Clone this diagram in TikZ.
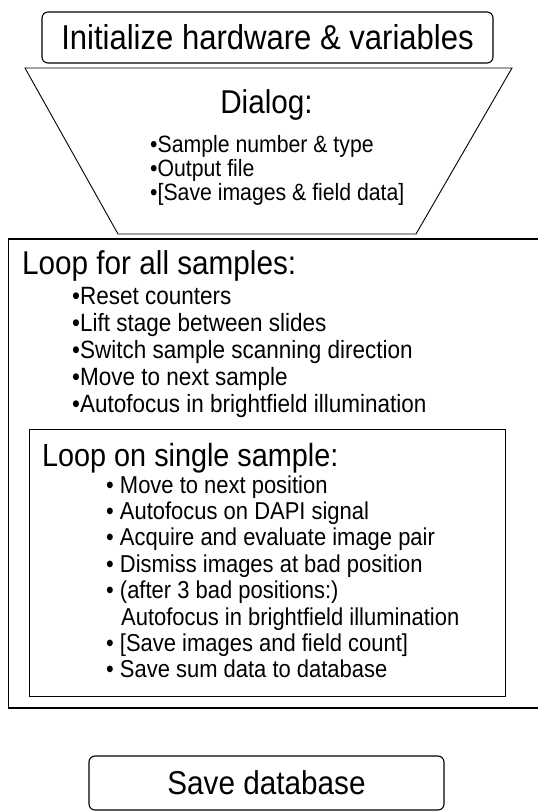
\documentclass[tikz,border=0pt]{standalone}
\usepackage{fontspec}
\setmainfont{Liberation Sans}[FakeStretch=0.9]
\tikzset{
  roundbox/.style={draw, line width=1.1pt, rounded corners=6pt, inner sep=0pt},
  heading/.style={inner sep=0pt, anchor=base west},
  entry/.style={inner sep=0pt, anchor=base west},
}
\newcommand{\fsz}[1]{\fontsize{#1}{#1}\selectfont}

\begin{document}
\begin{tikzpicture}[x=1pt,y=-1pt]
\useasboundingbox (0,0) rectangle (538,812);

%% start
\node [roundbox, minimum width=451pt, minimum height=51pt] (init) at (267.5,37.5)
  {\fsz{34.5}Initialize hardware \& variables};

%% dialog funnel
\draw [line width=0.9pt] (25,68) -- (512,68) -- (416,234) -- (118,234) -- cycle;
\node [inner sep=0pt, anchor=base] (dialog) at (266.5,113) {\fsz{33}Dialog:};
\node [entry] (dlg1) at (150,152) {\fsz{23.6}•Sample number \& type};
\node [entry] (dlg2) at (150,176.5) {\fsz{23.6}•Output file};
\node [entry] (dlg3) at (150,200) {\fsz{23.6}•[Save images \& field data]};

%% outer loop
\draw [line width=1.1pt] (538,239) -- (8.5,239) -- (8.5,708) -- (538,708);
\node [heading] (allhead) at (22,274) {\fsz{33}Loop for all samples:};
\foreach \txt [count=\i] in {Reset counters, Lift stage between slides,
    Switch sample scanning direction, Move to next sample,
    Autofocus in brightfield illumination}
  \node [entry] (all\i) at (72,{277+\i*27}) {\fsz{25}•\txt};

%% inner loop
\draw [line width=1pt] (29,429) rectangle (505,696);
\node [heading] (onehead) at (42,466) {\fsz{32}Loop on single sample:};
\foreach \txt [count=\i] in {Move to next position, Autofocus on DAPI signal,
    Acquire and evaluate image pair, Dismiss images at bad position,
    (after 3 bad positions:)}
  \node [entry] (one\i) at (106,{466.6+\i*26.4}) {\fsz{24.4}• \txt};
\node [entry] (one6) at (121,625) {\fsz{24.4}Autofocus in brightfield illumination};
\node [entry] (one7) at (106,651.4) {\fsz{24.4}• [Save images and field count]};
\node [entry] (one8) at (106,677.8) {\fsz{24.4}• Save sum data to database};

%% end
\node [roundbox, minimum width=355pt, minimum height=54pt] (savedb) at (266.5,783)
  {\fsz{33}Save database};

\end{tikzpicture}
\end{document}
